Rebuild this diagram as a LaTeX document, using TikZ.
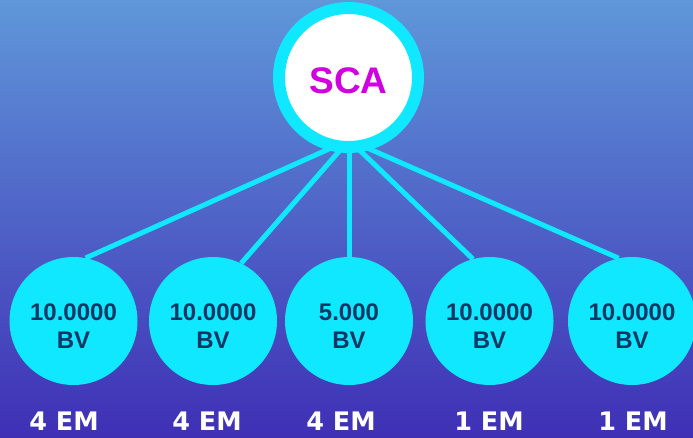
\documentclass[tikz,border=0pt]{standalone}
\usepackage{fontspec}
\setmainfont{Liberation Sans}
\newfontfamily\emfont{DejaVu Sans}
\pgfdeclarelayer{bg}
\pgfdeclarelayer{lines}
\pgfsetlayers{bg,lines,main}
\definecolor{topbg}{RGB}{95,151,217}
\definecolor{botbg}{RGB}{63,47,181}
\definecolor{cyanc}{RGB}{16,232,255}
\definecolor{navy}{RGB}{10,55,100}
\definecolor{mag}{RGB}{208,0,224}
\begin{document}
\begin{tikzpicture}[x=1pt,y=-1pt,
  rootnode/.style={circle,fill=white,draw=cyanc,line width=12pt,minimum size=139pt,inner sep=0pt},
  roottext/.style={font=\fontsize{37}{40}\selectfont\bfseries,text=mag,inner sep=0pt},
  leaf/.style={circle,fill=cyanc,minimum size=128pt,inner sep=0pt},
  leaftext/.style={font=\fontsize{24}{28}\selectfont\bfseries,text=navy,align=center,inner sep=0pt},
  conn/.style={draw=cyanc,line width=5pt},
  emlabel/.style={font=\emfont\fontsize{25.5}{30}\selectfont\bfseries,text=white,anchor=base,inner sep=0pt}]
\useasboundingbox (0,0) rectangle (693,438);
\begin{pgfonlayer}{bg}
\shade[top color=topbg,bottom color=botbg] (0,0) rectangle (693,438);
\end{pgfonlayer}
\node[rootnode] (root) at (348.5,77.5) {};
\node[roottext] (rt) at ([yshift=-3.5pt]root.center) {SCA};
\coordinate (hub) at (349,140);
\node[leaf] (b1) at (73.5,321) {};
\node[leaf] (b2) at (213,321) {};
\node[leaf] (b3) at (349,321) {};
\node[leaf] (b4) at (489.5,321) {};
\node[leaf] (b5) at (632,321) {};
\node[leaftext] (t1) at ([yshift=-5pt]b1.center) {10.0000\\BV};
\node[leaftext] (t2) at ([yshift=-5pt]b2.center) {10.0000\\BV};
\node[leaftext] (t3) at ([yshift=-5pt]b3.center) {5.000\\BV};
\node[leaftext] (t4) at ([yshift=-5pt]b4.center) {10.0000\\BV};
\node[leaftext] (t5) at ([yshift=-5pt]b5.center) {10.0000\\BV};
\begin{pgfonlayer}{lines}
\draw[conn] (hub) -- (b1.79);
\draw[conn] (hub) -- (b2.64);
\draw[conn] (hub) -- (b3.north);
\draw[conn] (hub) -- (b4.105);
\draw[conn] (hub) -- (b5.102);
\end{pgfonlayer}
\node[emlabel] (l1) at (64,430) {4 EM};
\node[emlabel] (l2) at (207,430) {4 EM};
\node[emlabel] (l3) at (341,430) {4 EM};
\node[emlabel] (l4) at (489,430) {1 EM};
\node[emlabel] (l5) at (633,430) {1 EM};
\end{tikzpicture}
\end{document}
